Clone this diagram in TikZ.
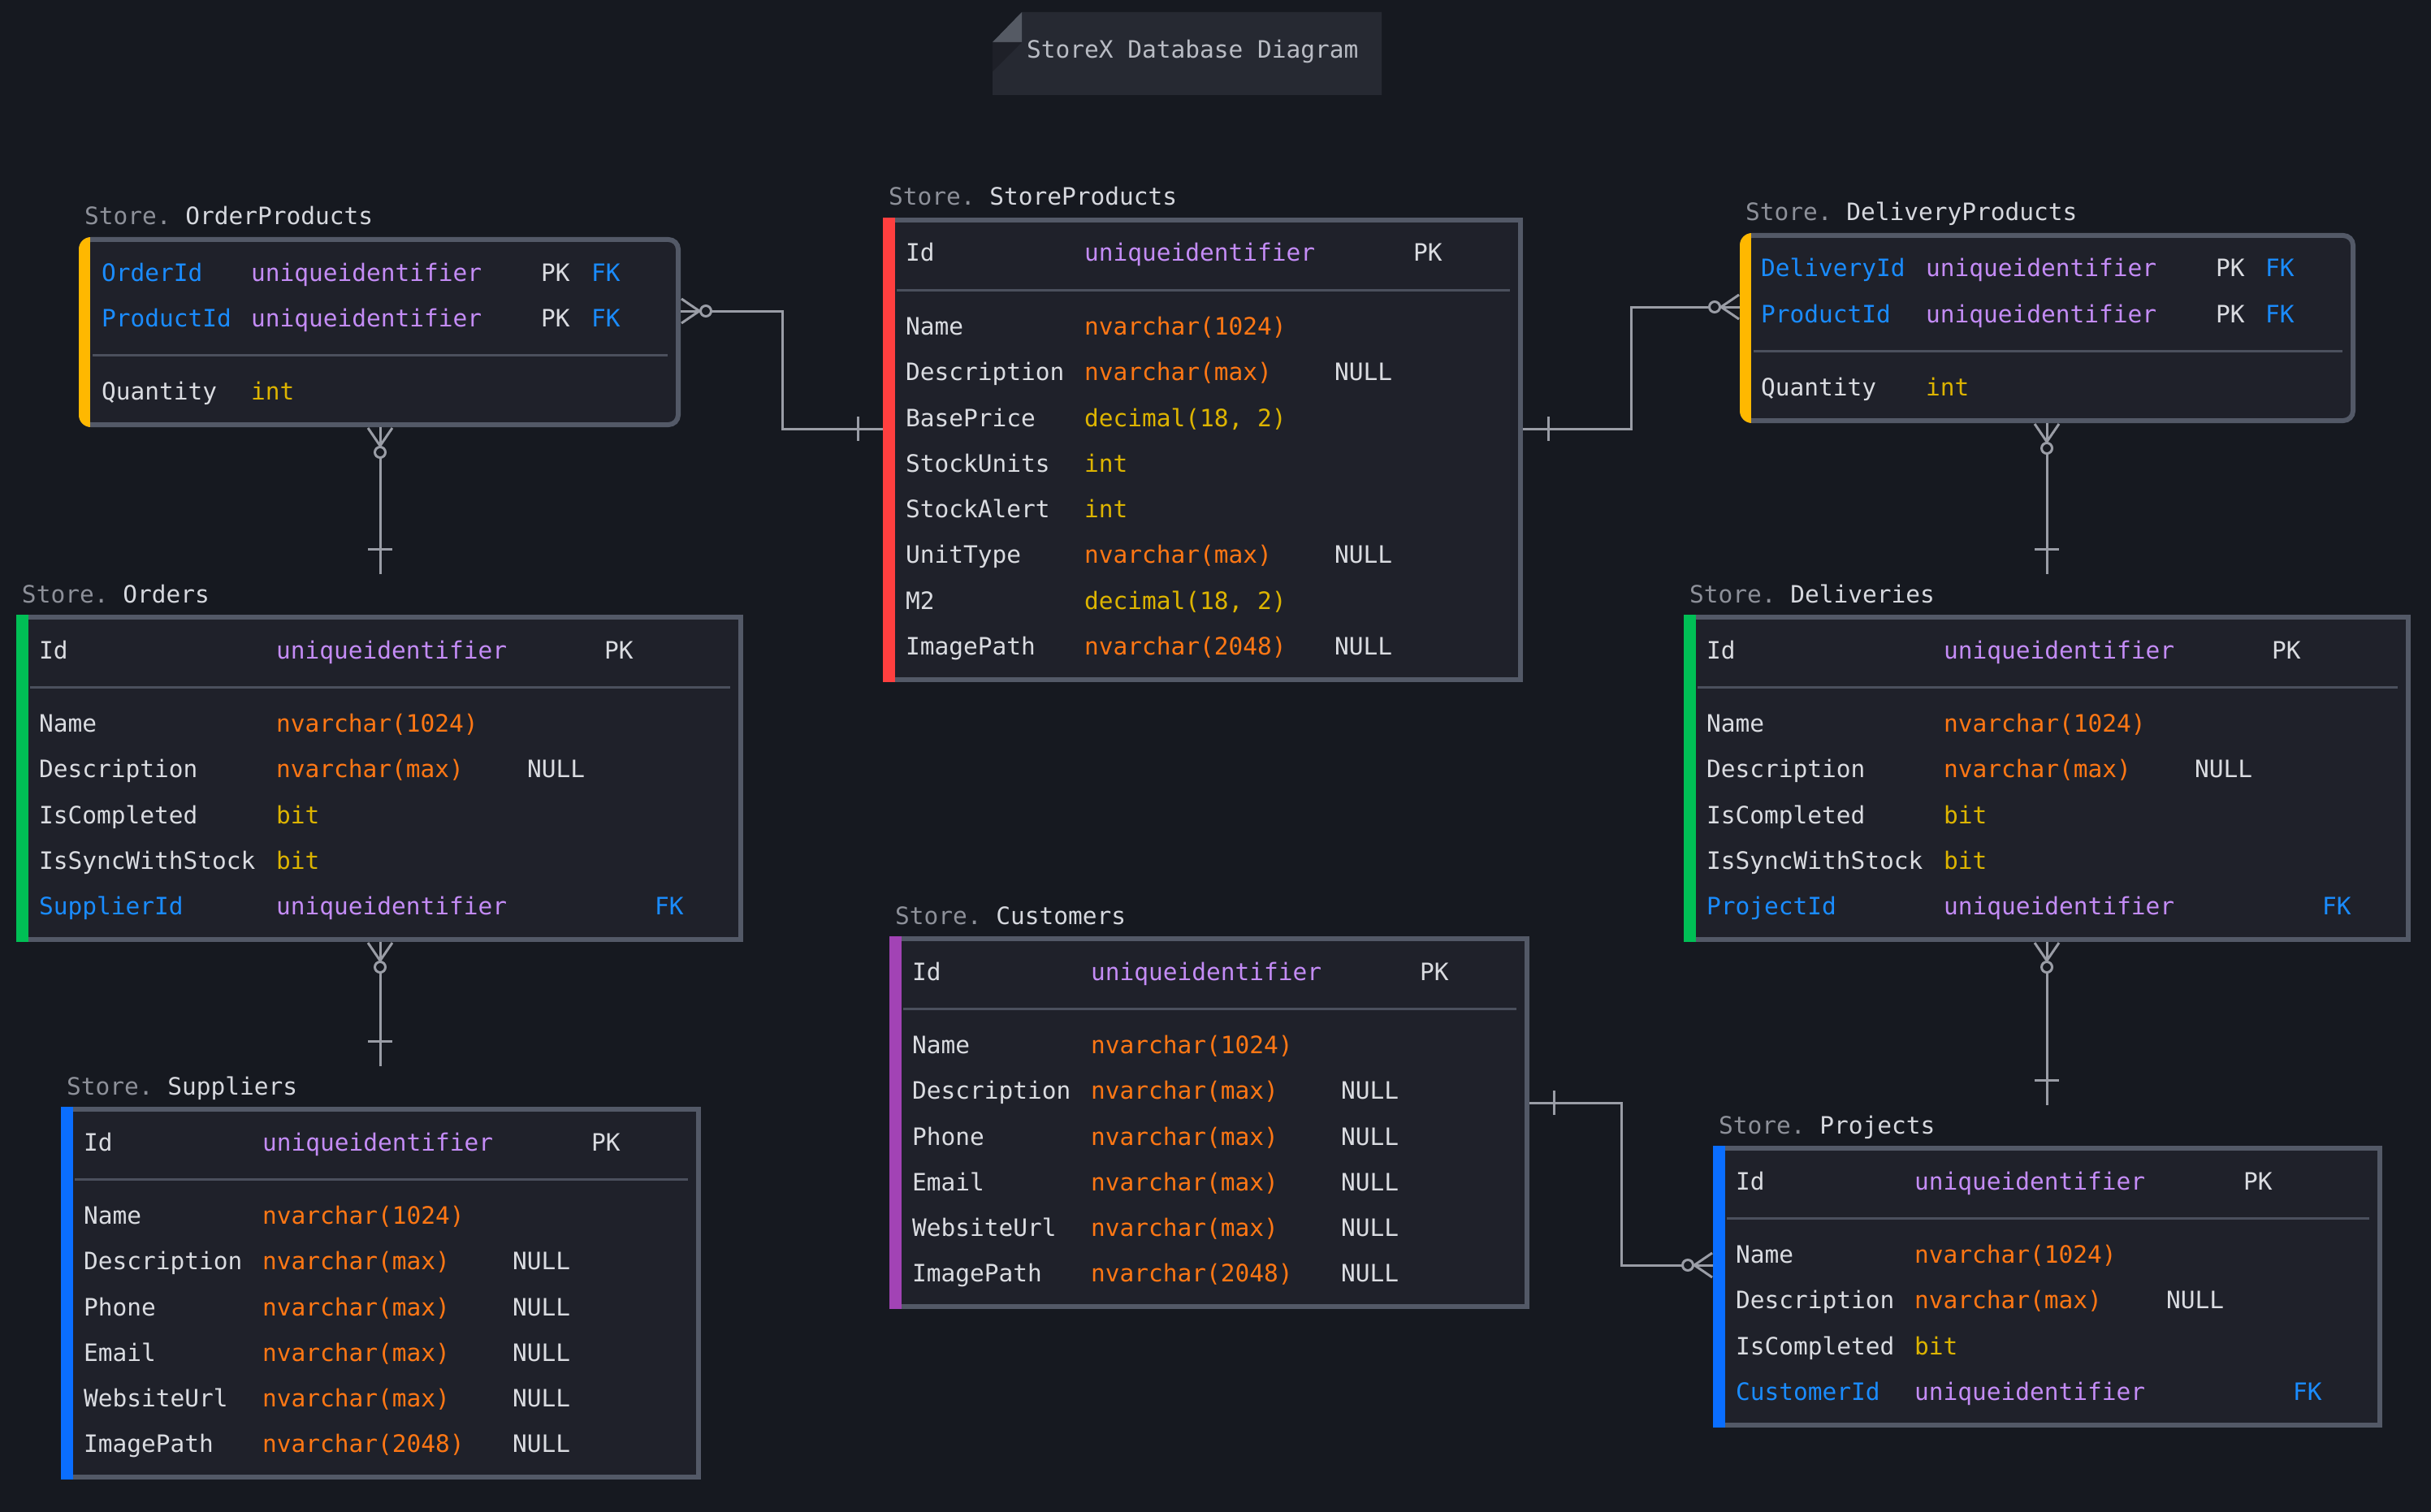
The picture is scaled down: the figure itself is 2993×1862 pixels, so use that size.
\documentclass[tikz,border=0pt]{standalone}
\usepackage{fontspec}
\setmonofont{DejaVu Sans Mono}
\usetikzlibrary{calc}
\definecolor{bg}{HTML}{161920}
\definecolor{tfill}{HTML}{1F212A}
\definecolor{tborder}{HTML}{535967}
\definecolor{tsep}{HTML}{4B505D}
\definecolor{conncol}{HTML}{9A9DA6}
\definecolor{txtc}{HTML}{DADCE1}
\definecolor{schema}{HTML}{8D9099}
\definecolor{tname}{HTML}{D6D8DE}
\definecolor{cpurple}{HTML}{C48CF6}
\definecolor{corange}{HTML}{FF7714}
\definecolor{cyellow}{HTML}{DDB400}
\definecolor{cblue}{HTML}{1A8CFF}
\definecolor{barY}{HTML}{FFB800}
\definecolor{barR}{HTML}{FF3F3F}
\definecolor{barG}{HTML}{00BF55}
\definecolor{barB}{HTML}{0A6EFF}
\definecolor{barP}{HTML}{A243B5}
\definecolor{titlefill}{HTML}{262932}
\definecolor{foldlight}{HTML}{555A64}
\definecolor{folddark}{HTML}{1E2028}
\definecolor{titletxt}{HTML}{B9BCC4}
\newcounter{cellno}
\newcommand\ercell[4]{\stepcounter{cellno}\node[cellt,#1] (cell\arabic{cellno}) at (#2,#3) {#4};}
\tikzset{
  cellt/.style={anchor=base west, inner sep=0pt, outer sep=0pt, font=\fontsize{29.5}{34}\selectfont\ttfamily, text=txtc},
  lbl/.style={cellt, text=tname},
  tyP/.style={text=cpurple},
  tyO/.style={text=corange},
  tyY/.style={text=cyellow},
  fkB/.style={text=cblue},
  tbox/.style={draw=tborder, line width=6pt, fill=tfill, inner sep=0pt, outer sep=0pt},
  sepl/.style={draw=tsep, line width=3pt},
  conn/.style={draw=conncol, line width=3pt},
  pics/zmany/.style={code={
    \draw[conn] (1,-15) -- (23,0) -- (1,15);
    \draw[conn] (0,0) -- (23,0);
    \draw[conn, fill=bg] (31,0) circle[radius=6.5pt];
  }},
  pics/onebar/.style={code={
    \draw[conn] (0,-15) -- (0,15);
  }}
}
\begin{document}
\begin{tikzpicture}[x=1pt,y=-1pt]
\useasboundingbox (0,0) rectangle (2993,1862);
\fill[bg] (0,0) rectangle (2993,1862);

% title
\fill[titlefill] (1258,15) -- (1701,15) -- (1701,117) -- (1222,117) -- (1222,52) -- cycle;
\fill[foldlight] (1222,52) -- (1258,15) -- (1258,52) -- cycle;
\fill[folddark] (1222,52) -- (1258,52) -- (1222,88) -- cycle;
\node[cellt, text=titletxt] (title) at (1264,72) {StoreX Database Diagram};

% tables
\node[tbox, minimum width=735pt, minimum height=228pt, rounded corners=12pt] (op) at (467.5,409) {};
\node[tbox, minimum width=782pt, minimum height=566pt] (sp) at (1481,554) {};
\node[tbox, minimum width=752pt, minimum height=228pt, rounded corners=12pt] (dp) at (2521,404) {};
\node[tbox, minimum width=889pt, minimum height=397pt] (ord) at (467.5,958.5) {};
\node[tbox, minimum width=889pt, minimum height=397pt] (dlv) at (2520.5,958.5) {};
\node[tbox, minimum width=782pt, minimum height=453pt] (sup) at (469,1592.5) {};
\node[tbox, minimum width=782pt, minimum height=453pt] (cus) at (1489,1382.5) {};
\node[tbox, minimum width=818pt, minimum height=341pt] (prj) at (2521,1584.5) {};

% key bars
\begin{scope}
\clip[rounded corners=15pt] (97,292) rectangle (838,526);
\fill[barY] (97,292) rectangle (111,526);
\end{scope}
\begin{scope}
\clip[rounded corners=15pt] (2142,287) rectangle (2900,521);
\fill[barY] (2142,287) rectangle (2156,521);
\end{scope}
\fill[barR] (1087,268) rectangle (1102,840);
\fill[barG] (20,757) rectangle (35,1160);
\fill[barG] (2073,757) rectangle (2088,1160);
\fill[barB] (75,1363) rectangle (90,1822);
\fill[barP] (1095,1153) rectangle (1110,1612);
\fill[barB] (2109,1411) rectangle (2124,1758);

% connector end points
\coordinate (c1s) at ($(op.east)+(3,-26)$);
\coordinate (c1e) at ($(sp.west)+(-3,-26)$);
\coordinate (c2s) at ($(sp.east)+(3,-26)$);
\coordinate (c2e) at ($(dp.west)+(-3,-26)$);
\coordinate (c3s) at ($(op.south)+(0.5,3)$);
\coordinate (c3e) at ($(ord.north)+(0.5,-53)$);
\coordinate (c4s) at ($(ord.south)+(0.5,3)$);
\coordinate (c4e) at ($(sup.north)+(-1,-53)$);
\coordinate (c5s) at ($(dp.south)+(-1,3)$);
\coordinate (c5e) at ($(dlv.north)+(-0.5,-53)$);
\coordinate (c6s) at ($(dlv.south)+(-0.5,3)$);
\coordinate (c6e) at ($(prj.north)+(-1,-53)$);
\coordinate (c7s) at ($(cus.east)+(3,-24.5)$);
\coordinate (c7e) at ($(prj.west)+(-3,-26.5)$);

\draw[conn] (c1s) -- ++(125,0) |- (c1e);
\draw[conn] (c2s) -- ++(133,0) |- (c2e);
\draw[conn] (c3s) -- (c3e);
\draw[conn] (c4s) -- (c4e);
\draw[conn] (c5s) -- (c5e);
\draw[conn] (c6s) -- (c6e);
\draw[conn] (c7s) -- ++(113,0) |- (c7e);

% labels
\node[lbl] (lop) at (104,277) {{\color{schema}Store.} OrderProducts};
\node[lbl] (lsp) at (1094,253) {{\color{schema}Store.} StoreProducts};
\node[lbl] (ldp) at (2149,272) {{\color{schema}Store.} DeliveryProducts};
\node[lbl] (lord) at (27,742) {{\color{schema}Store.} Orders};
\node[lbl] (ldlv) at (2080,742) {{\color{schema}Store.} Deliveries};
\node[lbl] (lsup) at (82,1348) {{\color{schema}Store.} Suppliers};
\node[lbl] (lcus) at (1102,1138) {{\color{schema}Store.} Customers};
\node[lbl] (lprj) at (2116,1396) {{\color{schema}Store.} Projects};

% OrderProducts
\ercell{fkB}{125}{346}{OrderId}
\ercell{tyP}{309}{346}{uniqueidentifier}
\ercell{}{666}{346}{PK}
\ercell{fkB}{728}{346}{FK}
\ercell{fkB}{125}{402}{ProductId}
\ercell{tyP}{309}{402}{uniqueidentifier}
\ercell{}{666}{402}{PK}
\ercell{fkB}{728}{402}{FK}
\draw[sepl] (114,437) -- (822,437);
\ercell{}{125}{492}{Quantity}
\ercell{tyY}{309}{492}{int}

% StoreProducts
\ercell{}{1115}{322}{Id}
\ercell{tyP}{1335}{322}{uniqueidentifier}
\ercell{}{1740}{322}{PK}
\draw[sepl] (1104,357) -- (1859,357);
\ercell{}{1115}{412}{Name}
\ercell{tyO}{1335}{412}{nvarchar(1024)}
\ercell{}{1115}{468}{Description}
\ercell{tyO}{1335}{468}{nvarchar(max)}
\ercell{}{1643}{468}{NULL}
\ercell{}{1115}{525}{BasePrice}
\ercell{tyY}{1335}{525}{decimal(18, 2)}
\ercell{}{1115}{581}{StockUnits}
\ercell{tyY}{1335}{581}{int}
\ercell{}{1115}{637}{StockAlert}
\ercell{tyY}{1335}{637}{int}
\ercell{}{1115}{693}{UnitType}
\ercell{tyO}{1335}{693}{nvarchar(max)}
\ercell{}{1643}{693}{NULL}
\ercell{}{1115}{750}{M2}
\ercell{tyY}{1335}{750}{decimal(18, 2)}
\ercell{}{1115}{806}{ImagePath}
\ercell{tyO}{1335}{806}{nvarchar(2048)}
\ercell{}{1643}{806}{NULL}

% DeliveryProducts
\ercell{fkB}{2168}{341}{DeliveryId}
\ercell{tyP}{2371}{341}{uniqueidentifier}
\ercell{}{2728}{341}{PK}
\ercell{fkB}{2789}{341}{FK}
\ercell{fkB}{2168}{397}{ProductId}
\ercell{tyP}{2371}{397}{uniqueidentifier}
\ercell{}{2728}{397}{PK}
\ercell{fkB}{2789}{397}{FK}
\draw[sepl] (2159,432) -- (2884,432);
\ercell{}{2168}{487}{Quantity}
\ercell{tyY}{2371}{487}{int}

% Orders
\ercell{}{48}{811}{Id}
\ercell{tyP}{340}{811}{uniqueidentifier}
\ercell{}{744}{811}{PK}
\draw[sepl] (37,846) -- (899,846);
\ercell{}{48}{901}{Name}
\ercell{tyO}{340}{901}{nvarchar(1024)}
\ercell{}{48}{957}{Description}
\ercell{tyO}{340}{957}{nvarchar(max)}
\ercell{}{649}{957}{NULL}
\ercell{}{48}{1014}{IsCompleted}
\ercell{tyY}{340}{1014}{bit}
\ercell{}{48}{1070}{IsSyncWithStock}
\ercell{tyY}{340}{1070}{bit}
\ercell{fkB}{48}{1126}{SupplierId}
\ercell{tyP}{340}{1126}{uniqueidentifier}
\ercell{fkB}{806}{1126}{FK}

% Deliveries
\ercell{}{2101}{811}{Id}
\ercell{tyP}{2393}{811}{uniqueidentifier}
\ercell{}{2797}{811}{PK}
\draw[sepl] (2090,846) -- (2952,846);
\ercell{}{2101}{901}{Name}
\ercell{tyO}{2393}{901}{nvarchar(1024)}
\ercell{}{2101}{957}{Description}
\ercell{tyO}{2393}{957}{nvarchar(max)}
\ercell{}{2702}{957}{NULL}
\ercell{}{2101}{1014}{IsCompleted}
\ercell{tyY}{2393}{1014}{bit}
\ercell{}{2101}{1070}{IsSyncWithStock}
\ercell{tyY}{2393}{1070}{bit}
\ercell{fkB}{2101}{1126}{ProjectId}
\ercell{tyP}{2393}{1126}{uniqueidentifier}
\ercell{fkB}{2859}{1126}{FK}

% Suppliers
\ercell{}{103}{1417}{Id}
\ercell{tyP}{323}{1417}{uniqueidentifier}
\ercell{}{728}{1417}{PK}
\draw[sepl] (92,1452) -- (847,1452);
\ercell{}{103}{1507}{Name}
\ercell{tyO}{323}{1507}{nvarchar(1024)}
\ercell{}{103}{1563}{Description}
\ercell{tyO}{323}{1563}{nvarchar(max)}
\ercell{}{631}{1563}{NULL}
\ercell{}{103}{1620}{Phone}
\ercell{tyO}{323}{1620}{nvarchar(max)}
\ercell{}{631}{1620}{NULL}
\ercell{}{103}{1676}{Email}
\ercell{tyO}{323}{1676}{nvarchar(max)}
\ercell{}{631}{1676}{NULL}
\ercell{}{103}{1732}{WebsiteUrl}
\ercell{tyO}{323}{1732}{nvarchar(max)}
\ercell{}{631}{1732}{NULL}
\ercell{}{103}{1788}{ImagePath}
\ercell{tyO}{323}{1788}{nvarchar(2048)}
\ercell{}{631}{1788}{NULL}

% Customers
\ercell{}{1123}{1207}{Id}
\ercell{tyP}{1343}{1207}{uniqueidentifier}
\ercell{}{1748}{1207}{PK}
\draw[sepl] (1112,1242) -- (1867,1242);
\ercell{}{1123}{1297}{Name}
\ercell{tyO}{1343}{1297}{nvarchar(1024)}
\ercell{}{1123}{1353}{Description}
\ercell{tyO}{1343}{1353}{nvarchar(max)}
\ercell{}{1651}{1353}{NULL}
\ercell{}{1123}{1410}{Phone}
\ercell{tyO}{1343}{1410}{nvarchar(max)}
\ercell{}{1651}{1410}{NULL}
\ercell{}{1123}{1466}{Email}
\ercell{tyO}{1343}{1466}{nvarchar(max)}
\ercell{}{1651}{1466}{NULL}
\ercell{}{1123}{1522}{WebsiteUrl}
\ercell{tyO}{1343}{1522}{nvarchar(max)}
\ercell{}{1651}{1522}{NULL}
\ercell{}{1123}{1578}{ImagePath}
\ercell{tyO}{1343}{1578}{nvarchar(2048)}
\ercell{}{1651}{1578}{NULL}

% Projects
\ercell{}{2137}{1465}{Id}
\ercell{tyP}{2357}{1465}{uniqueidentifier}
\ercell{}{2762}{1465}{PK}
\draw[sepl] (2126,1500) -- (2917,1500);
\ercell{}{2137}{1555}{Name}
\ercell{tyO}{2357}{1555}{nvarchar(1024)}
\ercell{}{2137}{1611}{Description}
\ercell{tyO}{2357}{1611}{nvarchar(max)}
\ercell{}{2667}{1611}{NULL}
\ercell{}{2137}{1668}{IsCompleted}
\ercell{tyY}{2357}{1668}{bit}
\ercell{fkB}{2137}{1724}{CustomerId}
\ercell{tyP}{2357}{1724}{uniqueidentifier}
\ercell{fkB}{2823}{1724}{FK}

% markers
\pic at (c1s) {zmany};
\pic[rotate=180] at (c2e) {zmany};
\pic[rotate=-90] at (c3s) {zmany};
\pic[rotate=-90] at (c4s) {zmany};
\pic[rotate=-90] at (c5s) {zmany};
\pic[rotate=-90] at (c6s) {zmany};
\pic[rotate=180] at (c7e) {zmany};
\pic at ($(c1e)+(-31,0)$) {onebar};
\pic at ($(c2s)+(31,0)$) {onebar};
\pic[rotate=90] at ($(c3e)+(0,-31)$) {onebar};
\pic[rotate=90] at ($(c4e)+(0,-31)$) {onebar};
\pic[rotate=90] at ($(c5e)+(0,-31)$) {onebar};
\pic[rotate=90] at ($(c6e)+(0,-31)$) {onebar};
\pic at ($(c7s)+(30,0)$) {onebar};
\end{tikzpicture}
\end{document}
